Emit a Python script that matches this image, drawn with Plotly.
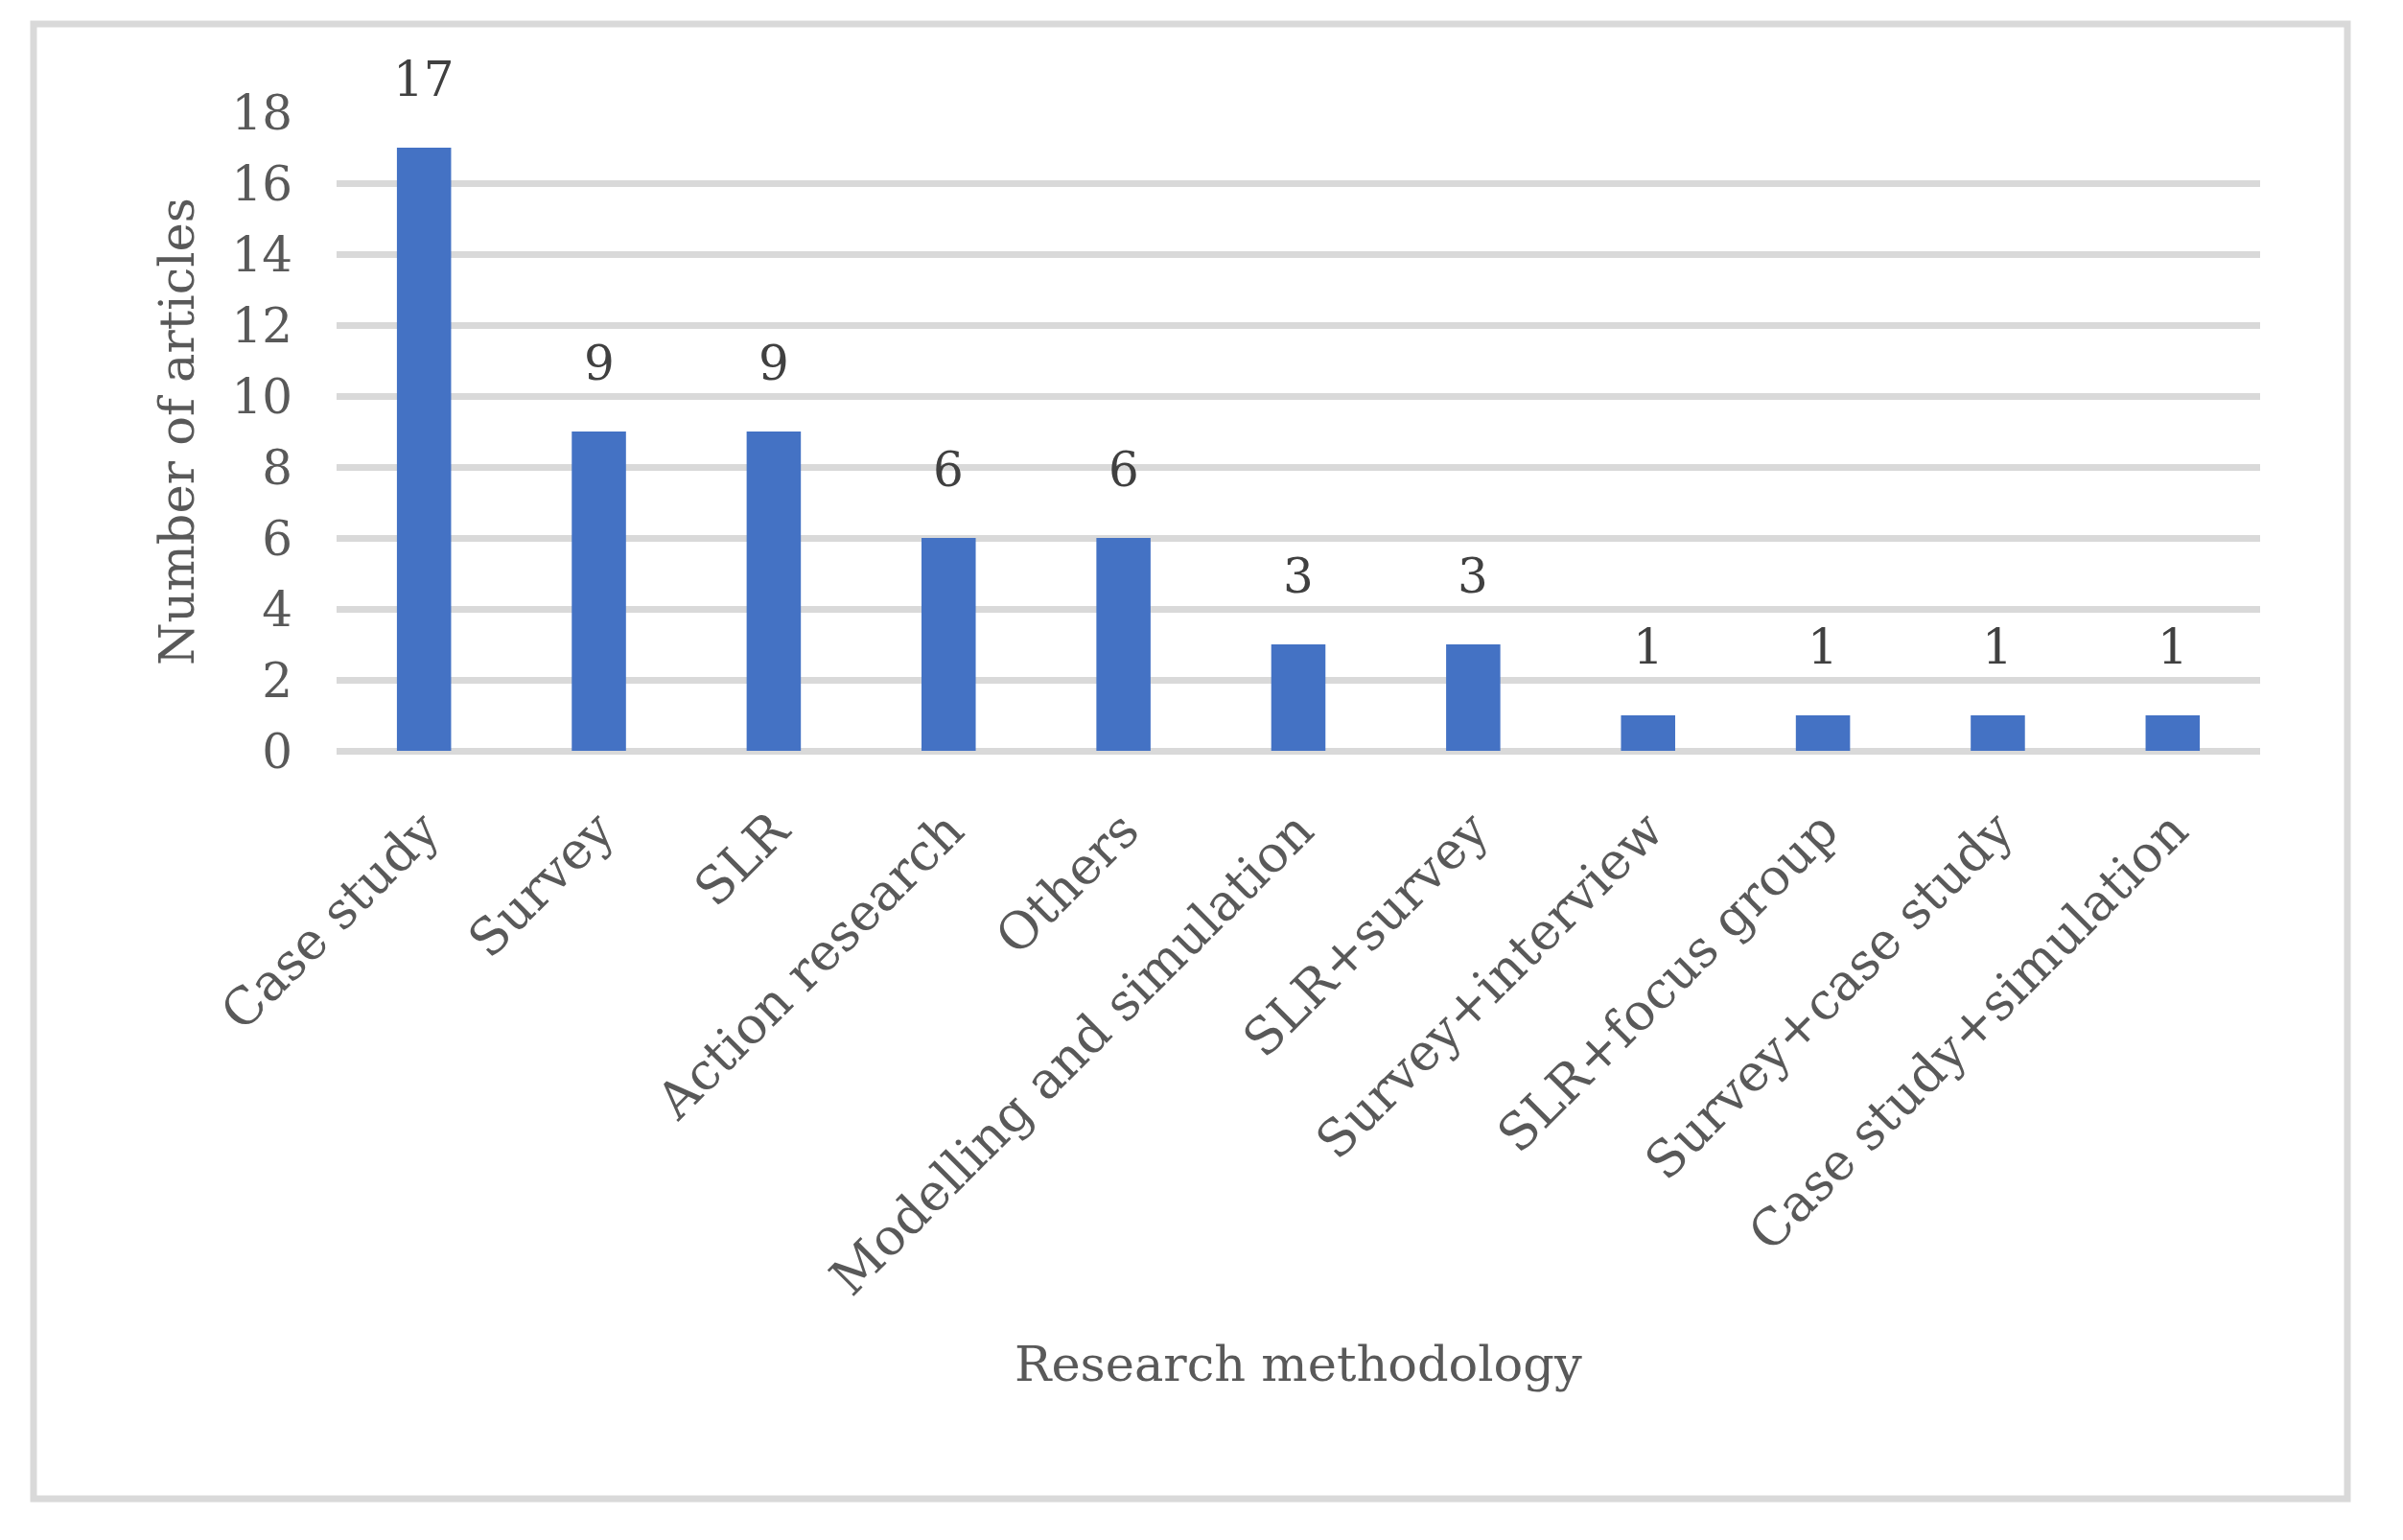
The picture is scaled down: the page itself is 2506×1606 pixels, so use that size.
import plotly.graph_objects as go

categories = ["Case study", "Survey", "SLR", "Action research", "Others",
              "Modelling and simulation", "SLR+survey", "Survey+interview",
              "SLR+focus group", "Survey+case study", "Case study+simulation"]
counts = [17, 9, 9, 6, 6, 3, 3, 1, 1, 1, 1]
y_ticks = [0, 2, 4, 6, 8, 10, 12, 14, 16, 18]

FONT = "DejaVu Serif"
GRID = "#d9d9d9"
TICK_C = "#595959"
LABEL_C = "#404040"

W, H = 2506, 1606
OFF = 8  # page body margin
# target screen coordinates of plot area
PX0, PX1, PY0, PY1 = 351, 2357, 117, 783
L = PX0 - OFF
T = PY0 - OFF
R = W + OFF - PX1
B = H + OFF - PY1
pw = PX1 - PX0
ph = PY1 - PY0


def px(x):
    return (x - PX0) / pw


def py(y):
    return (PY1 - y) / ph


fig = go.Figure()
fig.add_trace(go.Bar(x=categories, y=counts, marker_color="#4472C4",
                     marker_line_width=0, hoverinfo="skip"))

annotations = []
for c, v in zip(categories, counts):
    annotations.append(dict(x=c, y=v, xref="x", yref="y", text=str(v),
                            showarrow=False, yanchor="bottom", yshift=40,
                            font=dict(family=FONT, size=50, color=LABEL_C)))

annotations.append(dict(x=0.5, y=py(1422), xref="paper", yref="paper",
                        text="Research methodology", showarrow=False,
                        xanchor="center", yanchor="middle",
                        font=dict(family=FONT, size=51, color=TICK_C)))
annotations.append(dict(x=px(184), y=py(450), xref="paper", yref="paper",
                        text="Number of articles", showarrow=False, textangle=-90,
                        xanchor="center", yanchor="middle",
                        font=dict(family=FONT, size=51, color=TICK_C)))

fig.update_layout(
    width=W, height=H,
    margin=dict(l=L, r=R, t=T, b=B, pad=0),
    paper_bgcolor="white", plot_bgcolor="white",
    bargap=0.69, showlegend=False,
    annotations=annotations,
    shapes=[dict(type="rect", xref="paper", yref="paper",
                 x0=px(35), x1=px(2448),
                 y0=py(1563), y1=py(25),
                 line=dict(color=GRID, width=7), layer="below")],
)
fig.update_xaxes(showgrid=False, showline=False, zeroline=False, ticks="",
                 tickangle=-45, ticklabelstandoff=40,
                 tickfont=dict(family=FONT, size=53, color=TICK_C))
fig.update_yaxes(range=[0, 18], tickvals=y_ticks, showgrid=True, gridcolor=GRID,
                 gridwidth=7, zeroline=True, zerolinecolor=GRID, zerolinewidth=7,
                 showline=False, ticks="", ticklabelstandoff=45,
                 tickfont=dict(family=FONT, size=50, color=TICK_C))

fig.write_html("out.html")
